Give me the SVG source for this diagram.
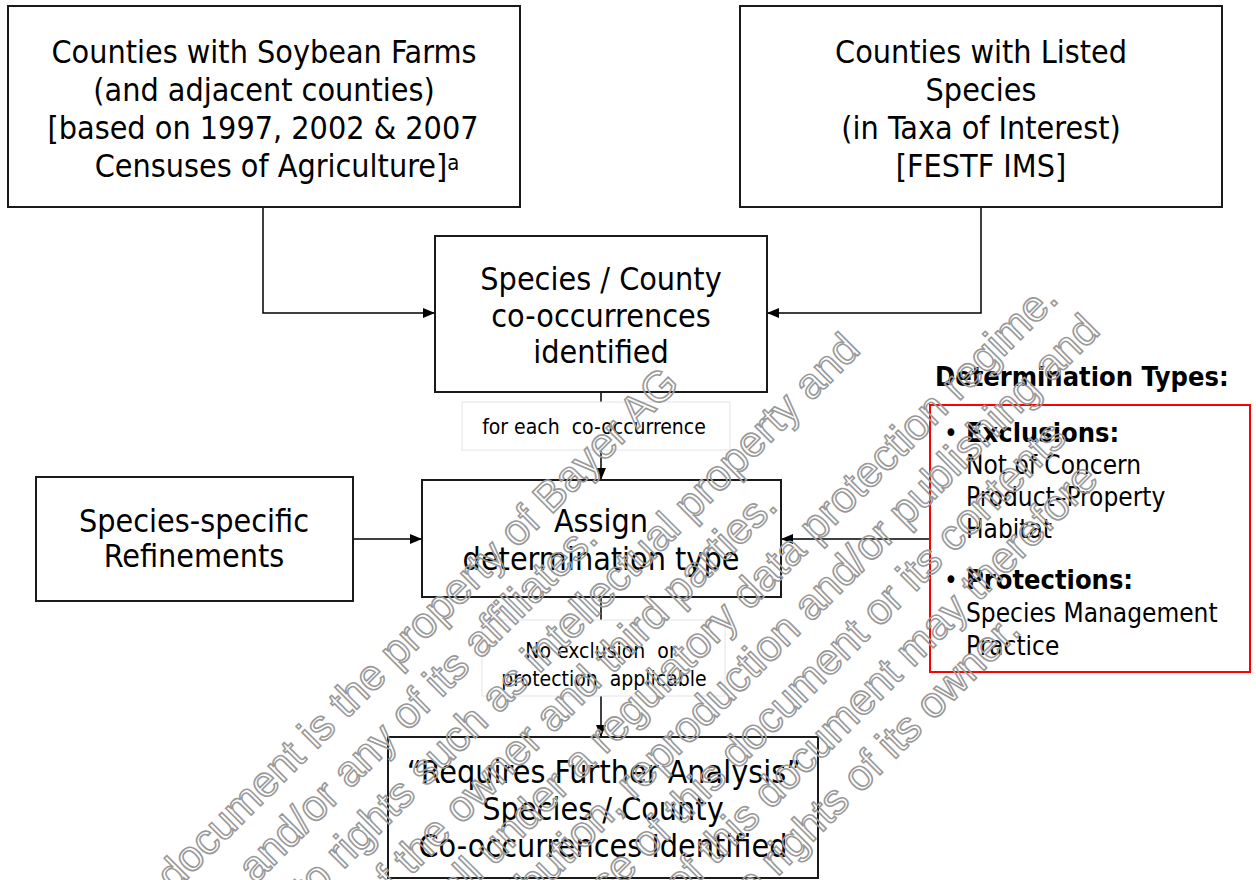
<svg xmlns="http://www.w3.org/2000/svg" width="1256" height="880" viewBox="0 0 1256 880">
  <defs>
    <marker id="arrow" viewBox="0 0 12 10" refX="12" refY="5" markerWidth="12" markerHeight="10" markerUnits="userSpaceOnUse" orient="auto">
      <path d="M0,0 L12,5 L0,10 z" fill="#000"/>
    </marker>
    <style>
      .box { fill: #fff; stroke: #1a1a1a; stroke-width: 2; }
      .label-box { fill: #fff; stroke: #e4e4e4; stroke-width: 1; }
      .red-box { fill: #fff; stroke: #ff0000; stroke-width: 2; }
      .t { font-family: 'DejaVu Sans Condensed', 'DejaVu Sans', sans-serif; font-stretch: condensed; fill: #000; }
      .big { font-size: 32px; text-anchor: middle; }
      .small { font-size: 21px; text-anchor: middle; white-space: pre; }
      .list { font-size: 26px; }
      .bold { font-weight: bold; }
      .conn { fill: none; stroke: #000; stroke-width: 1.5; }
      .wm { font-family: 'Liberation Sans', Arial, sans-serif; font-size: 43px; fill: none; stroke: #999; stroke-width: 1.6; text-anchor: end; }
    </style>
  </defs>

  <rect width="1256" height="880" fill="#fff"/>

  <!-- connectors -->
  <g id="connectors">
    <path class="conn" d="M263,207 V313 H435" marker-end="url(#arrow)"/>
    <path class="conn" d="M981,207 V313 H767" marker-end="url(#arrow)"/>
    <path class="conn" d="M601,392 V480" marker-end="url(#arrow)"/>
    <path class="conn" d="M353,539 H422" marker-end="url(#arrow)"/>
    <path class="conn" d="M930,539 H781" marker-end="url(#arrow)"/>
    <path class="conn" d="M601,597 V737" marker-end="url(#arrow)"/>
  </g>

  <g id="soybean-counties">
    <rect class="box" x="8" y="6" width="512" height="201"/>
    <text class="t big" x="264" y="63">Counties with Soybean Farms</text>
    <text class="t big" x="264" y="101">(and adjacent counties)</text>
    <text class="t big" x="263" y="139">[based on 1997, 2002 &amp; 2007</text>
    <text class="t big" x="277" y="177">Censuses of Agriculture]<tspan font-size="22" dy="-7">a</tspan></text>
  </g>

  <g id="listed-species-counties">
    <rect class="box" x="740" y="6" width="482" height="201"/>
    <text class="t big" x="981" y="63">Counties with Listed</text>
    <text class="t big" x="981" y="101">Species</text>
    <text class="t big" x="981" y="139">(in Taxa of Interest)</text>
    <text class="t big" x="981" y="177">[FESTF IMS]</text>
  </g>

  <g id="co-occurrences">
    <rect class="box" x="435" y="236" width="332" height="156"/>
    <text class="t big" x="601" y="290">Species / County</text>
    <text class="t big" x="601" y="327">co-occurrences</text>
    <text class="t big" x="601" y="363">identified</text>
  </g>

  <g id="label-each">
    <rect class="label-box" x="462" y="402" width="268" height="48"/>
    <text class="t small" x="594" y="434" xml:space="preserve">for each  co-occurrence</text>
  </g>

  <g id="assign-type">
    <rect class="box" x="422" y="480" width="359" height="117"/>
    <text class="t big" x="601" y="532">Assign</text>
    <text class="t big" x="601" y="570">determination type</text>
  </g>

  <g id="refinements">
    <rect class="box" x="36" y="477" width="317" height="124"/>
    <text class="t big" x="194" y="532">Species-specific</text>
    <text class="t big" x="194" y="567">Refinements</text>
  </g>

  <g id="label-none">
    <rect class="label-box" x="482" y="620" width="243" height="76"/>
    <text class="t small" x="601" y="658" xml:space="preserve">No exclusion  or</text>
    <text class="t small" x="604" y="686" xml:space="preserve">protection  applicable</text>
  </g>

  <g id="further-analysis">
    <rect class="box" x="388" y="737" width="430" height="141"/>
    <text class="t big" x="604" y="783">“Requires Further Analysis”</text>
    <text class="t big" x="603" y="820">Species / County</text>
    <text class="t big" x="603" y="857">Co-occurrences Identified</text>
  </g>

  <g id="determination-types">
    <text class="t bold" x="935" y="386" font-size="27">Determination Types:</text>
    <rect class="red-box" x="930" y="405" width="320" height="267"/>
    <text class="t list" x="944" y="442"><tspan>•</tspan><tspan class="bold" x="966" font-size="27">Exclusions:</tspan></text>
    <text class="t list" x="966" y="474">Not of Concern</text>
    <text class="t list" x="966" y="506">Product–Property</text>
    <text class="t list" x="966" y="538">Habitat</text>
    <text class="t list" x="944" y="589"><tspan>•</tspan><tspan class="bold" x="966" font-size="27">Protections:</tspan></text>
    <text class="t list" x="966" y="622">Species Management</text>
    <text class="t list" x="966" y="655">Practice</text>
  </g>

  <!-- ownership notice, outlined diagonal lines over the chart -->
  <g id="notice" transform="rotate(-45)">
    <text class="wm" x="209" y="754">This document is the property of Bayer AG</text>
    <text class="wm" x="42" y="806">and/or any of its affiliates.</text>
    <text class="wm" x="361" y="858">It may be subject to rights such as intellectual property and</text>
    <text class="wm" x="192" y="910">copyright of the owner and third parties.</text>
    <text class="wm" x="537" y="962">Furthermore, this document may fall under a regulatory data protection regime.</text>
    <text class="wm" x="544" y="1014">Consequently, any publication, distribution, reproduction and/or publishing and</text>
    <text class="wm" x="445" y="1066">any commercial exploitation and use of this document or its contents</text>
    <text class="wm" x="438" y="1118">without the permission of the owner of this document may therefore</text>
    <text class="wm" x="276" y="1170">be prohibited and violate the rights of its owner.</text>
  </g>
</svg>
